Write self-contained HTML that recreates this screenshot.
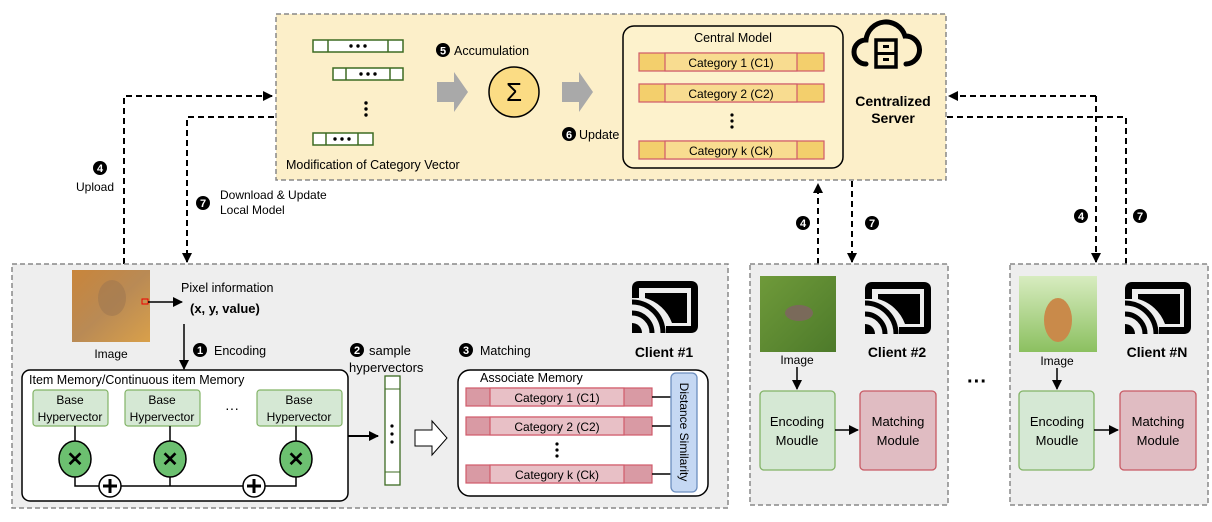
<!DOCTYPE html>
<html><head><meta charset="utf-8"><style>
html,body{margin:0;padding:0;background:#fff;}
svg{display:block;font-family:"Liberation Sans",sans-serif;}
</style></head><body>
<svg width="1212" height="522" viewBox="0 0 1212 522" xmlns="http://www.w3.org/2000/svg">
<defs>
<marker id="ah" viewBox="0 0 10 10" refX="9" refY="5" markerUnits="userSpaceOnUse" markerWidth="10" markerHeight="10" orient="auto"><path d="M0,0 L10,5 L0,10 z" fill="#000"/></marker>
<linearGradient id="cat" x1="0" y1="0" x2="1" y2="1"><stop offset="0" stop-color="#c9853a"/><stop offset="0.5" stop-color="#b98a55"/><stop offset="1" stop-color="#d9a04a"/></linearGradient>
<linearGradient id="bird" x1="0" y1="0" x2="1" y2="1"><stop offset="0" stop-color="#6f9a3a"/><stop offset="1" stop-color="#4d7a2a"/></linearGradient>
<linearGradient id="dog" x1="0" y1="0" x2="0" y2="1"><stop offset="0" stop-color="#d8ecc0"/><stop offset="1" stop-color="#8cc060"/></linearGradient>
<g id="cast">
<path d="M3.5,17 V7 Q3.5,3.5 7,3.5 H59 Q62.5,3.5 62.5,7 V45 Q62.5,48.5 59,48.5 H34" fill="none" stroke="#000" stroke-width="7"/>
<path d="M13,12 H55 V42 H40 A40 40 0 0 0 13,17 Z" fill="#000"/>
<path d="M0,42 A10,10 0 0 1 10,52 L0,52 Z" fill="#000"/>
<path d="M0,32 A20,20 0 0 1 20,52" fill="none" stroke="#000" stroke-width="5"/>
<path d="M0,21 A31,31 0 0 1 31,52" fill="none" stroke="#000" stroke-width="5"/>
</g>
</defs>

<!-- Server box -->
<rect x="276" y="14" width="670" height="166" fill="#fcefc9" stroke="#888" stroke-width="1.5" stroke-dasharray="5,3"/>
<g stroke="#3d6b22" stroke-width="1.5" fill="#fff">
<rect x="313" y="40" width="90" height="12"/><line x1="328" y1="40" x2="328" y2="52"/><line x1="388" y1="40" x2="388" y2="52"/>
<rect x="333" y="68" width="70" height="12"/><line x1="346" y1="68" x2="346" y2="80"/><line x1="390" y1="68" x2="390" y2="80"/>
<rect x="313" y="133" width="60" height="12"/><line x1="326" y1="133" x2="326" y2="145"/><line x1="358" y1="133" x2="358" y2="145"/>
</g>
<g fill="#000">
<circle cx="351" cy="46" r="1.7"/><circle cx="358" cy="46" r="1.7"/><circle cx="365" cy="46" r="1.7"/>
<circle cx="361" cy="74" r="1.7"/><circle cx="368" cy="74" r="1.7"/><circle cx="375" cy="74" r="1.7"/>
<circle cx="335" cy="139" r="1.7"/><circle cx="342" cy="139" r="1.7"/><circle cx="349" cy="139" r="1.7"/>
<circle cx="366" cy="103" r="1.7"/><circle cx="366" cy="109" r="1.7"/><circle cx="366" cy="115" r="1.7"/>
</g>
<text x="286" y="169" font-size="12.5">Modification of Category Vector</text>
<path d="M437,82 H454 V72 L468,92 L454,112 V102 H437 Z" fill="#a9a9a9"/>
<path d="M562,82 H579 V72 L593,92 L579,112 V102 H562 Z" fill="#a9a9a9"/>
<circle cx="443" cy="50" r="7" fill="#000"/><text x="443" y="54.5" font-size="11" font-weight="bold" fill="#fff" text-anchor="middle">5</text>
<text x="454" y="55" font-size="12.5">Accumulation</text>
<circle cx="514" cy="92" r="25" fill="#fbdc84" stroke="#000" stroke-width="1.5"/>
<text x="514" y="101" font-size="26" text-anchor="middle">Σ</text>
<circle cx="569" cy="134" r="7" fill="#000"/><text x="569" y="138.5" font-size="11" font-weight="bold" fill="#fff" text-anchor="middle">6</text>
<text x="579" y="139" font-size="12.5">Update</text>
<rect x="623" y="26" width="220" height="142" rx="11" fill="#fdf2cc" stroke="#000" stroke-width="1.5"/>
<text x="733" y="42" font-size="12.5" text-anchor="middle">Central Model</text>
<g stroke="#d05a6a" stroke-width="1.2">
<rect x="639" y="53" width="185" height="18" fill="#f3cf6c"/><rect x="665" y="53" width="132" height="18" fill="#f8dc90"/>
<rect x="639" y="84" width="185" height="18" fill="#f3cf6c"/><rect x="665" y="84" width="132" height="18" fill="#f8dc90"/>
<rect x="639" y="141" width="185" height="18" fill="#f3cf6c"/><rect x="665" y="141" width="132" height="18" fill="#f8dc90"/>
</g>
<g font-size="12" text-anchor="middle">
<text x="731" y="67">Category 1 (C1)</text><text x="731" y="98">Category 2 (C2)</text><text x="731" y="155">Category k (Ck)</text>
</g>
<circle cx="732" cy="115" r="1.6"/><circle cx="732" cy="121" r="1.6"/><circle cx="732" cy="127" r="1.6"/>
<path d="M866,64 A12,12 0 0 1 866,40 A20,20 0 0 1 905,36 A14,14 0 0 1 906,64" fill="none" stroke="#000" stroke-width="5" stroke-linecap="round"/>
<rect x="876" y="40" width="20" height="27" fill="#fcefc9" stroke="#000" stroke-width="3.5"/>
<line x1="876" y1="53.5" x2="896" y2="53.5" stroke="#000" stroke-width="3"/>
<rect x="883" y="45" width="6" height="3" fill="#000"/><rect x="883" y="58" width="6" height="3" fill="#000"/>
<text x="893" y="106" font-size="14" font-weight="bold" text-anchor="middle">Centralized</text>
<text x="893" y="123" font-size="14" font-weight="bold" text-anchor="middle">Server</text>

<!-- dashed connectors -->
<g fill="none" stroke="#000" stroke-width="2" stroke-dasharray="6,4">
<path d="M124,264 V96 H272" marker-end="url(#ah)"/>
<path d="M274,117 H187 V262" marker-end="url(#ah)"/>
<path d="M818,264 V184" marker-end="url(#ah)"/>
<path d="M852,181 V262" marker-end="url(#ah)"/>
<path d="M1096,96 V262" marker-end="url(#ah)"/>
<path d="M1096,96 H949" marker-end="url(#ah)"/>
<path d="M1126,264 V117 H947"/>
</g>
<g font-size="11" font-weight="bold" fill="#fff" text-anchor="middle">
<circle cx="100" cy="168" r="7" fill="#000"/><text x="100" y="172">4</text>
<circle cx="203" cy="203" r="7" fill="#000"/><text x="203" y="207">7</text>
<circle cx="803" cy="223" r="7" fill="#000"/><text x="803" y="227">4</text>
<circle cx="872" cy="223" r="7" fill="#000"/><text x="872" y="227">7</text>
<circle cx="1081" cy="216" r="7" fill="#000"/><text x="1081" y="220">4</text>
<circle cx="1140" cy="216" r="7" fill="#000"/><text x="1140" y="220">7</text>
</g>
<text x="76" y="191" font-size="12">Upload</text>
<text x="220" y="199" font-size="12">Download &amp; Update</text>
<text x="220" y="214" font-size="12">Local Model</text>

<!-- Client 1 -->
<rect x="12" y="264" width="716" height="244" fill="#eeeeee" stroke="#888" stroke-width="1.5" stroke-dasharray="5,3"/>
<rect x="72" y="270" width="78" height="72" fill="url(#cat)"/>
<ellipse cx="112" cy="298" rx="14" ry="18" fill="#a07850" opacity="0.6"/>
<rect x="142" y="299" width="6" height="5" fill="none" stroke="#e00" stroke-width="1"/>
<line x1="148" y1="302" x2="182" y2="302" stroke="#000" stroke-width="1.5" marker-end="url(#ah)"/>
<text x="111" y="358" font-size="12" text-anchor="middle">Image</text>
<text x="181" y="292" font-size="12.5">Pixel information</text>
<text x="190" y="313" font-size="13" font-weight="bold">(x, y, value)</text>
<line x1="184" y1="324" x2="184" y2="369" stroke="#000" stroke-width="1.5" marker-end="url(#ah)"/>
<circle cx="200" cy="350" r="7" fill="#000"/><text x="200" y="354" font-size="11" font-weight="bold" fill="#fff" text-anchor="middle">1</text>
<text x="214" y="355" font-size="12.5">Encoding</text>
<rect x="22" y="370" width="326" height="131" rx="8" fill="#fff" stroke="#000" stroke-width="1.5"/>
<text x="29" y="384" font-size="12.5">Item Memory/Continuous item Memory</text>
<g fill="#d5e8d4" stroke="#82b366" stroke-width="1.2">
<rect x="33" y="390" width="75" height="36" rx="3"/><rect x="125" y="390" width="75" height="36" rx="3"/><rect x="257" y="390" width="85" height="36" rx="3"/>
</g>
<g font-size="12" text-anchor="middle">
<text x="70" y="404">Base</text><text x="70" y="421">Hypervector</text>
<text x="162" y="404">Base</text><text x="162" y="421">Hypervector</text>
<text x="299" y="404">Base</text><text x="299" y="421">Hypervector</text>
</g>
<text x="232" y="413" font-size="14" text-anchor="middle">···</text>
<g stroke="#000" stroke-width="1.5" fill="none">
<line x1="75" y1="426" x2="75" y2="441"/><line x1="170" y1="426" x2="170" y2="441"/><line x1="296" y1="426" x2="296" y2="441"/>
<path d="M75,477 V486 H296 V477"/><line x1="170" y1="477" x2="170" y2="486"/>
</g>
<g fill="#6cc070" stroke="#000" stroke-width="1.5">
<ellipse cx="75" cy="459" rx="16" ry="18"/><ellipse cx="170" cy="459" rx="16" ry="18"/><ellipse cx="296" cy="459" rx="16" ry="18"/>
</g>
<g font-size="20" font-weight="bold" text-anchor="middle"><text x="75" y="466">✕</text><text x="170" y="466">✕</text><text x="296" y="466">✕</text></g>
<circle cx="110" cy="486" r="11" fill="#fff" stroke="#000" stroke-width="1.5"/>
<circle cx="254" cy="486" r="11" fill="#fff" stroke="#000" stroke-width="1.5"/>
<g stroke="#000" stroke-width="3"><line x1="103" y1="486" x2="117" y2="486"/><line x1="110" y1="479" x2="110" y2="493"/><line x1="247" y1="486" x2="261" y2="486"/><line x1="254" y1="479" x2="254" y2="493"/></g>
<line x1="348" y1="436" x2="378" y2="436" stroke="#000" stroke-width="2" marker-end="url(#ah)"/>
<rect x="385" y="376" width="15" height="109" fill="#fff" stroke="#3d6b22" stroke-width="1.3"/>
<line x1="385" y1="389" x2="400" y2="389" stroke="#3d6b22"/><line x1="385" y1="472" x2="400" y2="472" stroke="#3d6b22"/>
<circle cx="392" cy="426" r="1.6"/><circle cx="392" cy="434" r="1.6"/><circle cx="392" cy="442" r="1.6"/>
<circle cx="357" cy="350" r="7" fill="#000"/><text x="357" y="354" font-size="11" font-weight="bold" fill="#fff" text-anchor="middle">2</text>
<text x="369" y="355" font-size="13">sample</text>
<text x="349" y="372" font-size="13">hypervectors</text>
<path d="M415,430 H432 V421 L447,438 L432,455 V446 H415 Z" fill="#fff" stroke="#000" stroke-width="1"/>
<circle cx="466" cy="350" r="7" fill="#000"/><text x="466" y="354" font-size="11" font-weight="bold" fill="#fff" text-anchor="middle">3</text>
<text x="480" y="355" font-size="12.5">Matching</text>
<rect x="458" y="370" width="250" height="126" rx="12" fill="#fff" stroke="#000" stroke-width="1.5"/>
<text x="480" y="382" font-size="12.5">Associate Memory</text>
<g stroke="#d05a6a" stroke-width="1.2">
<rect x="466" y="388" width="186" height="18" fill="#d99aa4"/><rect x="490" y="388" width="134" height="18" fill="#e8c0c6"/>
<rect x="466" y="417" width="186" height="18" fill="#d99aa4"/><rect x="490" y="417" width="134" height="18" fill="#e8c0c6"/>
<rect x="466" y="465" width="186" height="18" fill="#d99aa4"/><rect x="490" y="465" width="134" height="18" fill="#e8c0c6"/>
</g>
<g font-size="12" text-anchor="middle">
<text x="557" y="402">Category 1 (C1)</text><text x="557" y="431">Category 2 (C2)</text><text x="557" y="479">Category k (Ck)</text>
</g>
<circle cx="557" cy="444" r="1.6"/><circle cx="557" cy="450" r="1.6"/><circle cx="557" cy="456" r="1.6"/>
<g stroke="#000" stroke-width="1.5"><line x1="652" y1="397" x2="671" y2="397"/><line x1="652" y1="426" x2="671" y2="426"/><line x1="652" y1="474" x2="671" y2="474"/></g>
<rect x="671" y="373" width="26" height="119" rx="5" fill="#c5d8f3" stroke="#6c8ebf" stroke-width="1.3"/>
<text x="0" y="0" font-size="12" text-anchor="middle" transform="translate(680,432) rotate(90)">Distance Similarity</text>
<use href="#cast" transform="translate(632,281)"/>
<text x="664" y="357" font-size="14" font-weight="bold" text-anchor="middle">Client #1</text>

<!-- Client 2 -->
<rect x="750" y="264" width="198" height="241" fill="#eeeeee" stroke="#888" stroke-width="1.5" stroke-dasharray="5,3"/>
<rect x="760" y="276" width="76" height="76" fill="url(#bird)"/>
<ellipse cx="799" cy="313" rx="14" ry="8" fill="#7a6a5a"/>
<text x="797" y="364" font-size="12" text-anchor="middle">Image</text>
<line x1="797" y1="367" x2="797" y2="389" stroke="#000" stroke-width="1.5" marker-end="url(#ah)"/>
<rect x="760" y="391" width="75" height="79" rx="4" fill="#d5e8d4" stroke="#82b366" stroke-width="1.3"/>
<rect x="860" y="391" width="76" height="79" rx="4" fill="#e0bcc2" stroke="#c85a64" stroke-width="1.3"/>
<line x1="835" y1="430" x2="858" y2="430" stroke="#000" stroke-width="1.5" marker-end="url(#ah)"/>
<g font-size="13" text-anchor="middle">
<text x="797" y="426">Encoding</text><text x="797" y="445">Moudle</text>
<text x="898" y="426">Matching</text><text x="898" y="445">Module</text>
</g>
<use href="#cast" transform="translate(865,282)"/>
<text x="897" y="357" font-size="14" font-weight="bold" text-anchor="middle">Client #2</text>

<text x="977" y="388" font-size="20" font-weight="bold" text-anchor="middle">···</text>

<!-- Client N -->
<rect x="1010" y="264" width="198" height="241" fill="#eeeeee" stroke="#888" stroke-width="1.5" stroke-dasharray="5,3"/>
<rect x="1019" y="276" width="78" height="76" fill="url(#dog)"/>
<ellipse cx="1058" cy="320" rx="14" ry="22" fill="#c98a4a"/>
<text x="1057" y="365" font-size="12" text-anchor="middle">Image</text>
<line x1="1057" y1="368" x2="1057" y2="389" stroke="#000" stroke-width="1.5" marker-end="url(#ah)"/>
<rect x="1019" y="391" width="75" height="79" rx="4" fill="#d5e8d4" stroke="#82b366" stroke-width="1.3"/>
<rect x="1120" y="391" width="76" height="79" rx="4" fill="#e0bcc2" stroke="#c85a64" stroke-width="1.3"/>
<line x1="1094" y1="430" x2="1118" y2="430" stroke="#000" stroke-width="1.5" marker-end="url(#ah)"/>
<g font-size="13" text-anchor="middle">
<text x="1057" y="426">Encoding</text><text x="1057" y="445">Moudle</text>
<text x="1158" y="426">Matching</text><text x="1158" y="445">Module</text>
</g>
<use href="#cast" transform="translate(1125,282)"/>
<text x="1157" y="357" font-size="14" font-weight="bold" text-anchor="middle">Client #N</text>
</svg>
</body></html>
